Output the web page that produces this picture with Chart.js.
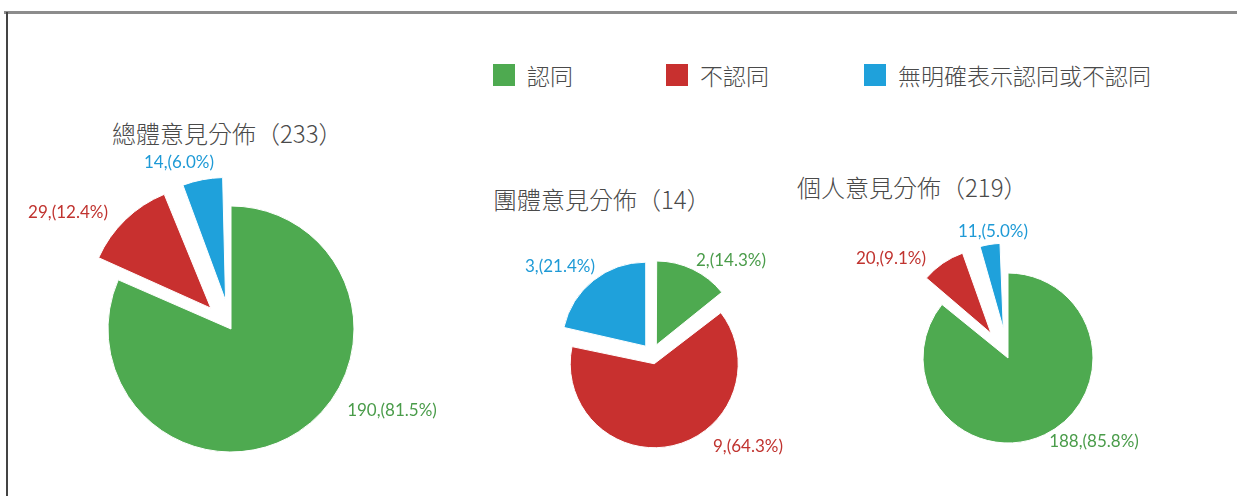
<!DOCTYPE html>
<html>
<head>
<meta charset="utf-8">
<script src="https://cdn.jsdelivr.net/npm/chart.js@4.4.0/dist/chart.umd.min.js"></script>
<style>
  html, body { margin: 0; padding: 0; background: #fff; }
  #page { position: relative; width: 1237px; height: 496px; overflow: hidden; background: #fff; }
  #frameTop { position: absolute; left: 4px; top: 11px; width: 1233px; height: 0; border-top: 3px solid #8c8c8c; }
  #frameLeft { position: absolute; left: 6px; top: 12px; width: 0; height: 484px; border-left: 2px solid #444; }
  .box { position: absolute; }
  .title { position: absolute; font-family: "Noto Sans CJK TC", "Noto Sans", sans-serif; font-weight: 300; font-size: 24px; line-height: 26px; color: #4a4a4a; white-space: nowrap; }
  .legItem { position: absolute; display: flex; align-items: center; font-family: "Noto Sans CJK TC", sans-serif; font-weight: 300; font-size: 23px; line-height: 26px; color: #4a4a4a; white-space: nowrap; }
  .legSwatch { display: inline-block; width: 22px; height: 22px; margin-right: 12px; }
</style>
</head>
<body>
<div id="page">
  <div id="frameTop"></div>
  <div id="frameLeft"></div>
  <div id="legend"></div>
  <div id="titles"></div>
  <div class="box" id="box0"><canvas id="c0"></canvas></div>
  <div class="box" id="box1"><canvas id="c1"></canvas></div>
  <div class="box" id="box2"><canvas id="c2"></canvas></div>
</div>
<script>
// ---- data ----
const categories = ['認同', '不認同', '無明確表示認同或不認同'];
const overallValues = [190, 29, 14];
const overallPercents = ['81.5%', '12.4%', '6.0%'];
const groupValues = [2, 9, 3];
const groupPercents = ['14.3%', '64.3%', '21.4%'];
const personalValues = [188, 20, 11];
const personalPercents = ['85.8%', '9.1%', '5.0%'];
const chartTitles = ['總體意見分佈（233）', '團體意見分佈（14）', '個人意見分佈（219）'];

// ---- styles ----
const sliceColors = ['#4eaa50', '#c8302f', '#1fa1db'];
const labelColors = ['#4a9c4a', '#c0332f', '#1e9ad6'];

// ---- layout ----
const legendX = [493, 666, 864];
const legendCenterY = 75;
const pies = [
  { values: overallValues, percents: overallPercents, cx: 231, cy: 329, r: 123, w: 440, h: 380,
    offsets: [0, 116, 116], labelPos: [[161, 82], [-163, -116], [-52, -166]],
    titleX: 112, titleY: 133 },
  { values: groupValues, percents: groupPercents, cx: 652, cy: 354, r: 84, w: 320, h: 240,
    offsets: [40, 40, 40], labelPos: [[79, -93], [96, 93], [-92, -87]],
    titleX: 493, titleY: 199 },
  { values: personalValues, percents: personalPercents, cx: 1008, cy: 358, r: 85, w: 340, h: 300,
    offsets: [0, 120, 120], labelPos: [[86, 84], [-117, -99], [-15, -126]],
    titleX: 797, titleY: 187 }
];

// legend
const legendEl = document.getElementById('legend');
categories.forEach((cat, i) => {
  const item = document.createElement('div');
  item.className = 'legItem';
  item.style.left = legendX[i] + 'px';
  item.style.top = (legendCenterY - 13) + 'px';
  const sw = document.createElement('span');
  sw.className = 'legSwatch';
  sw.style.background = sliceColors[i];
  const tx = document.createElement('span');
  tx.textContent = cat;
  item.appendChild(sw);
  item.appendChild(tx);
  legendEl.appendChild(item);
});

// titles
const titlesEl = document.getElementById('titles');
pies.forEach((p, k) => {
  const t = document.createElement('div');
  t.className = 'title';
  t.textContent = chartTitles[k];
  t.style.left = p.titleX + 'px';
  t.style.top = (p.titleY - 13) + 'px';
  titlesEl.appendChild(t);
});

// keep exploded slices at the same radius as the others
const explodeFix = {
  id: 'explodeFix',
  afterUpdate(chart) {
    const meta = chart.getDatasetMeta(0);
    const R = meta.controller.outerRadius;
    meta.data.forEach(arc => {
      const off = ((arc.options && arc.options.offset) || 0) / 4;
      const fix = 1 - Math.sin(Math.min(Math.PI, arc.circumference || 0));
      arc.outerRadius = R - off * fix;
    });
  }
};

const sliceLabels = {
  id: 'sliceLabels',
  afterDatasetsDraw(chart, args, opts) {
    const meta = chart.getDatasetMeta(0);
    const ctx = chart.ctx;
    ctx.save();
    ctx.font = '17px Lato, "Open Sans", sans-serif';
    ctx.textAlign = 'center';
    ctx.textBaseline = 'middle';
    meta.data.forEach((arc, i) => {
      const pos = opts.positions[i];
      ctx.fillStyle = labelColors[i];
      ctx.fillText(opts.values[i] + ',(' + opts.percents[i] + ')', arc.x + pos[0], arc.y + pos[1]);
    });
    ctx.restore();
  }
};

pies.forEach((p, k) => {
  const box = document.getElementById('box' + k);
  box.style.left = (p.cx - p.w / 2) + 'px';
  box.style.top = (p.cy - p.h / 2) + 'px';
  box.style.width = p.w + 'px';
  box.style.height = p.h + 'px';
  new Chart(document.getElementById('c' + k), {
    type: 'pie',
    data: {
      labels: categories,
      datasets: [{
        data: p.values,
        backgroundColor: sliceColors,
        borderColor: '#ffffff',
        borderWidth: 1,
        offset: p.offsets
      }]
    },
    options: {
      responsive: true,
      maintainAspectRatio: false,
      animation: false,
      events: [],
      radius: p.r,
      layout: { padding: 0 },
      plugins: {
        legend: { display: false },
        tooltip: { enabled: false },
        title: { display: false },
        sliceLabels: { values: p.values, percents: p.percents, positions: p.labelPos }
      }
    },
    plugins: [explodeFix, sliceLabels]
  });
});
</script>
</body>
</html>
